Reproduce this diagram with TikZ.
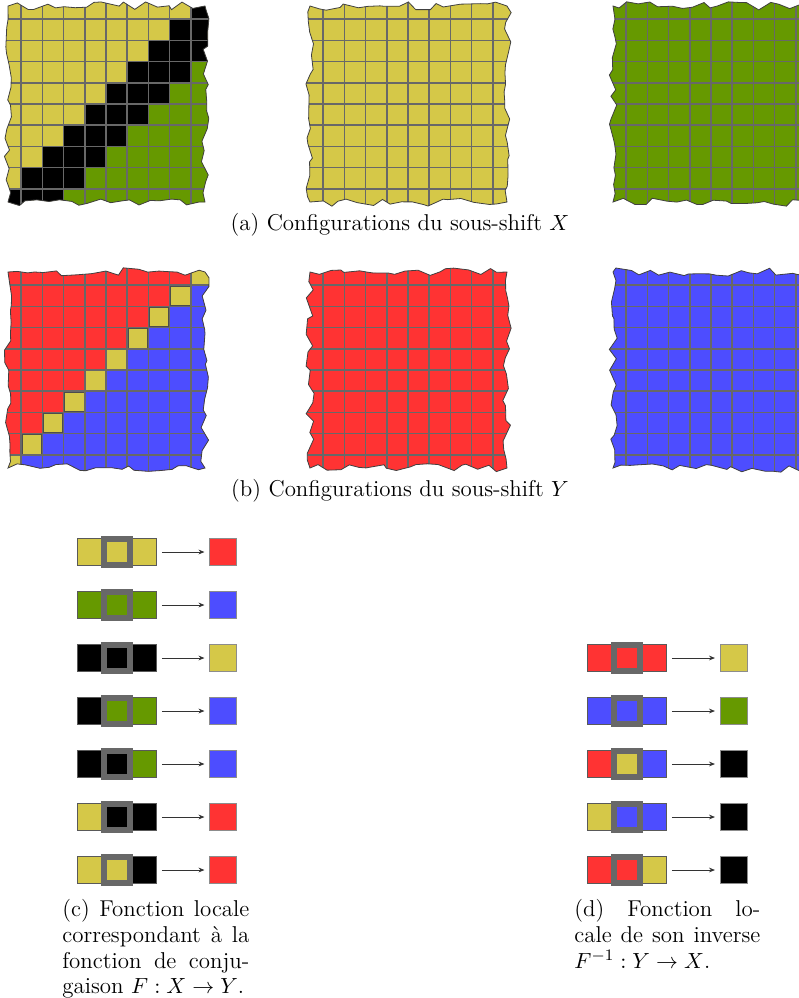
\documentclass[tikz,border=0pt]{standalone}
\usepackage{amsmath}
\usepackage{amssymb}
\usepackage{xcolor}
\definecolor{jaune}{RGB}{213,200,72}
\definecolor{vert}{RGB}{102,153,0}
\definecolor{rouge}{RGB}{255,51,51}
\definecolor{bleu}{RGB}{77,77,255}
\definecolor{gris}{RGB}{104,104,104}
\tikzset{
  grille/.style={draw=gris, line width=0.75pt},
  bord/.style={draw=black!75, line width=0.4pt},
  dechire/.style={decorate,
                  decoration={random steps, segment length=5pt, amplitude=2.1pt}},
  cellule/.style={draw=black!65, line width=0.5pt, minimum size=13.25pt,
                  inner sep=0pt, outer sep=0pt},
  cadre/.style={draw=gris, line width=3pt},
  sortie/.style={draw=black!45, line width=0.5pt, minimum size=13.5pt,
                 inner sep=0pt, outer sep=0pt},
  fleche/.style={-{Stealth[length=3pt,width=2.4pt]}, black!80, line width=0.5pt,
                 shorten <=2.5pt, shorten >=2.5pt},
  legende/.style={inner sep=0pt, font=\fontsize{11.45}{12.9}\selectfont}
}
\usetikzlibrary{%
  arrows.meta,
  positioning,
  decorations.pathmorphing
}
\begin{document}
\begin{tikzpicture}[x=0.5pt,y=-0.5pt]
  \useasboundingbox (0,0) rectangle (799,998);
  \def\pas{21.2}
  \def\grillage{%
    \foreach \k in {1,...,9} {
      \draw[grille] ({\k*\pas},0) -- ({\k*\pas},212);
      \draw[grille] (0,{\k*\pas}) -- (212,{\k*\pas});
    }}
  % une configuration dechiree : #1 decalage, #2 graine, #3 remplissage
  \def\config#1#2#3{%
    \begin{scope}[shift={#1}]
      \begin{scope}
        \pgfmathsetseed{#2}
        \path[dechire, clip] (8,8) rectangle (205,204);
        #3
        \grillage
      \end{scope}
      \pgfmathsetseed{#2}
      \draw[dechire, bord] (8,8) rectangle (205,204);
    \end{scope}}

  % sous-shift X
  \config{(0,-2)}{11}{%
    \fill[jaune] (0,0) rectangle (212,212);
    \foreach \r in {0,...,9}
      \foreach \c in {0,...,9} {
        \pgfmathtruncatemacro{\d}{\c+\r-9}
        \ifnum\d>2 \fill[vert] ({\c*\pas},{\r*\pas}) rectangle +(\pas,\pas);
        \else\ifnum\d>-1 \fill[black] ({\c*\pas},{\r*\pas}) rectangle +(\pas,\pas);
        \fi\fi
      }}
  \config{(302,-2)}{23}{\fill[jaune] (0,0) rectangle (212,212);}
  \config{(605,-2)}{37}{\fill[vert] (0,0) rectangle (220,212);}
  \node[legende] (capa) at (400,225) {(a) Configurations du sous-shift $X$};

  % sous-shift Y
  \config{(0,264)}{41}{%
    \fill[rouge] (0,0) rectangle (212,212);
    \foreach \r in {0,...,9}
      \foreach \c in {0,...,9} {
        \pgfmathtruncatemacro{\d}{\c+\r-9}
        \ifnum\d>0 \fill[bleu] ({\c*\pas},{\r*\pas}) rectangle +(\pas,\pas);
        \else\ifnum\d=0 \fill[jaune] ({\c*\pas},{\r*\pas}) rectangle +(\pas,\pas);
        \draw[black!70, line width=0.5pt] ({\c*\pas+0.8},{\r*\pas+0.8}) rectangle +(19.6,19.6);
        \fi\fi
      }}
  \config{(302,264)}{53}{\fill[rouge] (0,0) rectangle (212,212);}
  \config{(605,264)}{67}{\fill[bleu] (0,0) rectangle (220,212);}
  \node[legende] (capb) at (400,491) {(b) Configurations du sous-shift $Y$};

  % fonction locale F
  \foreach \g/\m/\d/\s [count=\i] in {jaune/jaune/jaune/rouge, vert/vert/vert/bleu,
      black/black/black/jaune, black/vert/vert/bleu, black/black/vert/bleu,
      jaune/black/black/rouge, jaune/jaune/black/rouge} {
    \node[cellule, fill=\g] (fg\i) at (90.5,{499+53*\i}) {};
    \node[cellule, fill=\m, right=0pt of fg\i] (fm\i) {};
    \node[cellule, fill=\d, right=0pt of fm\i] (fd\i) {};
    \draw[cadre] (fm\i.south west) rectangle (fm\i.north east);
    \node[sortie, fill=\s] (fs\i) at (223,{499+53*\i}) {};
    \draw[fleche] (fd\i) -- (fs\i);
  }

  % fonction locale de l'inverse
  \foreach \g/\m/\d/\s [count=\i] in {rouge/rouge/rouge/jaune, bleu/bleu/bleu/vert,
      rouge/jaune/bleu/black, jaune/bleu/bleu/black, rouge/rouge/jaune/black} {
    \node[cellule, fill=\g] (ig\i) at (600.5,{605+53*\i}) {};
    \node[cellule, fill=\m, right=0pt of ig\i] (im\i) {};
    \node[cellule, fill=\d, right=0pt of im\i] (id\i) {};
    \draw[cadre] (im\i.south west) rectangle (im\i.north east);
    \node[sortie, fill=\s] (is\i) at (733.5,{605+53*\i}) {};
    \draw[fleche] (id\i) -- (is\i);
  }

  \node[legende, anchor=north west, text width=93.5pt, align=justify] (capc) at (62,899)
    {\makebox[93.5pt][s]{(c) Fonction locale}\\
     \makebox[93.5pt][s]{correspondant à la}\\
     \makebox[93.5pt][s]{fonction de conju-}\\
     gaison $F : X \to Y$.};
  \node[legende, anchor=north west, text width=93pt, align=justify] (capd) at (574,899)
    {\makebox[93pt][s]{(d) Fonction lo-}\\
     \makebox[93pt][s]{cale de son inverse}\\
     $F^{-1} : Y \to X$.};
\end{tikzpicture}
\end{document}
